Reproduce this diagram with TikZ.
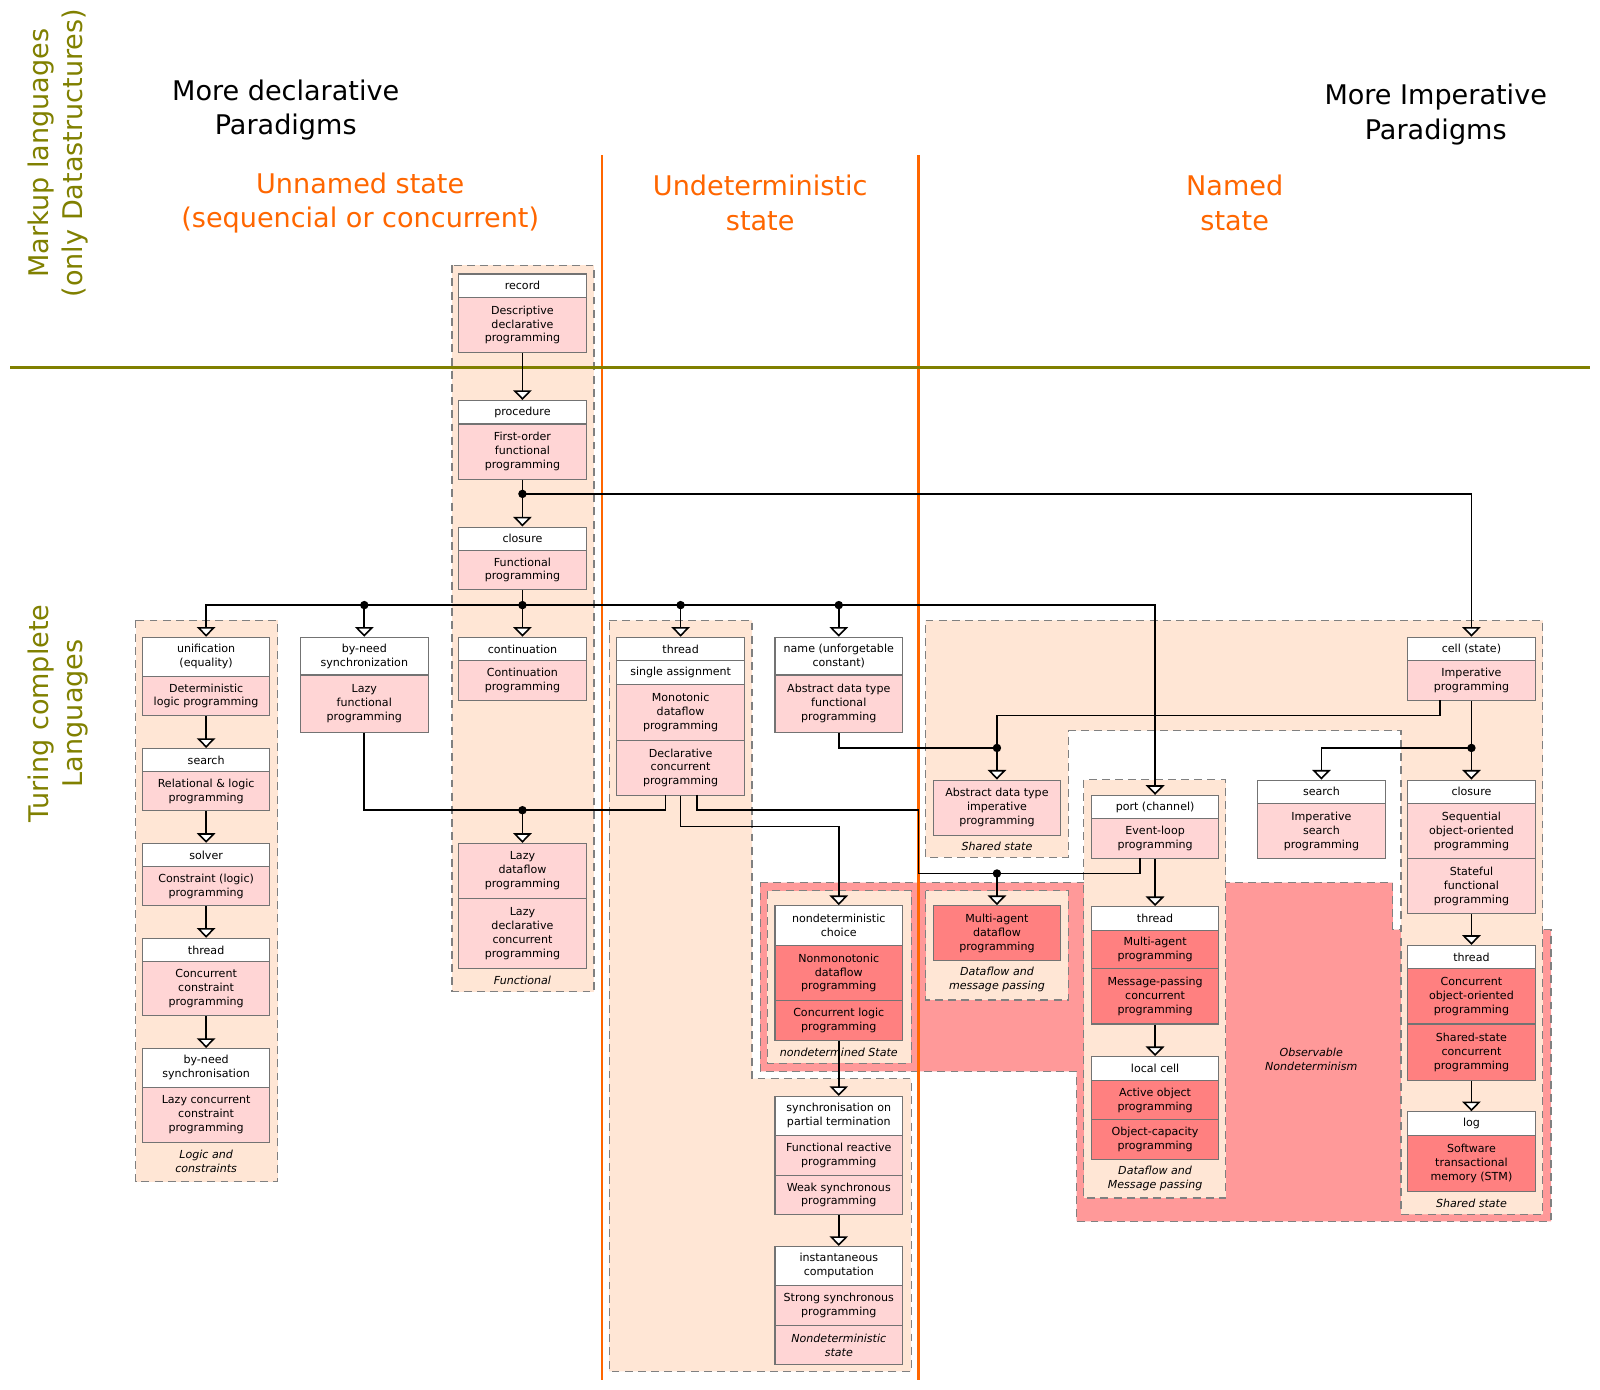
\documentclass[tikz,border=0pt]{standalone}
\usepackage{fontspec}
\setmainfont{DejaVu Sans}
\usetikzlibrary{arrows.meta}

\definecolor{peach}{HTML}{FFE6D5}
\definecolor{softRed}{HTML}{FFD5D5}
\definecolor{hotRed}{HTML}{FF8080}
\definecolor{obsRed}{HTML}{FF9999}
\definecolor{stateOrange}{HTML}{FF6600}
\definecolor{levelOlive}{HTML}{808000}

\newcommand{\pxu}{0.020408cm}
\newcommand{\cellfont}{\fontsize{6.3}{7.9}\selectfont}
\newcommand{\bigfont}{\fontsize{15.4}{19.7}\selectfont}

\begin{document}
\begin{tikzpicture}[x=\pxu, y=-\pxu,
    cellStyle/.style={draw=black!55, line width=0.6pt, anchor=north, minimum width=125*\pxu, inner sep=1pt, align=center, font=\cellfont},
    headStyle/.style={cellStyle, fill=white, minimum height=#1*\pxu},
    softStyle/.style={cellStyle, fill=softRed, minimum height=#1*\pxu},
    hotStyle/.style={cellStyle, fill=hotRed, minimum height=#1*\pxu},
    groupStyle/.style={fill=peach, draw=black!50, line width=0.7pt, dash pattern=on 4.5pt off 3pt},
    groupLabel/.style={font=\cellfont\itshape, align=center},
    titleStyle/.style={font=\bigfont, align=center},
    linkStyle/.style={line width=0.9pt},
    arrowStyle/.style={linkStyle, -{Triangle[width=10.5pt, length=5.5pt, fill=white]}}]

    \useasboundingbox (0,0) rectangle (1568,1362);

    % Groups
    \draw[groupStyle] (443,260) rectangle (582,972);
    \draw[groupStyle] (133,608) rectangle (272,1158);
    \draw[groupStyle] (597,608) -- (737,608) -- (737,1057) -- (893,1057) -- (893,1344) -- (597,1344) -- cycle;
    \draw[groupStyle, fill=obsRed] (745,865) -- (1365,865) -- (1365,911) -- (1520,911) -- (1520,1197) -- (1055,1197) -- (1055,1050) -- (745,1050) -- cycle;
    \draw[groupStyle] (752,873) rectangle (893,1042);
    \draw[groupStyle] (907,873) rectangle (1047,980);
    \draw[groupStyle] (907,608) -- (1512,608) -- (1512,1190) -- (1373,1190) -- (1373,716) -- (1047,716) -- (1047,840) -- (907,840) -- cycle;
    \draw[groupStyle] (1062,764) rectangle (1201,1174);

    % Level lines
    \draw[stateOrange, line width=1.5pt] (590,152) -- (590,1352);
    \draw[stateOrange, line width=1.5pt] (900,152) -- (900,1352);
    \draw[levelOlive, line width=1.7pt] (10,360) -- (1558,360);

    % Titles
    \node[titleStyle] (decl) at (280,108) {More declarative\\Paradigms};
    \node[titleStyle] (imper) at (1407,112) {More Imperative\\Paradigms};
    \node[titleStyle, text=stateOrange] (unnamed) at (353,199) {Unnamed state\\(sequencial or concurrent)};
    \node[titleStyle, text=stateOrange] (undet) at (745,199) {Undeterministic\\state};
    \node[titleStyle, text=stateOrange] (named) at (1210,199) {Named\\state};
    \node[titleStyle, text=levelOlive, rotate=90] (markup) at (57,150) {Markup languages\\(only Datastructures)};
    \node[titleStyle, text=levelOlive, rotate=90] (turing) at (57,699) {Turing complete\\Languages};

    % Functional column
    \node[headStyle=23] (rec) at (512,268) {record};
    \node[softStyle=54] (recP) at (512,291) {Descriptive\\declarative\\programming};
    \node[headStyle=23] (proc) at (512,392) {procedure};
    \node[softStyle=54] (procP) at (512,415) {First-order\\functional\\programming};
    \node[headStyle=23] (clos) at (512,516) {closure};
    \node[softStyle=38] (closP) at (512,539) {Functional\\programming};
    \node[headStyle=23] (cont) at (512,624) {continuation};
    \node[softStyle=39] (contP) at (512,647) {Continuation\\programming};
    \node[softStyle=54] (lzdf) at (512,826) {Lazy\\dataflow\\programming};
    \node[softStyle=69] (lzdc) at (512,880) {Lazy\\declarative\\concurrent\\programming};

    % Logic column
    \node[headStyle=38] (unif) at (202,624) {unification\\(equality)};
    \node[softStyle=39] (unifP) at (202,662) {Deterministic\\logic programming};
    \node[headStyle=23] (srchl) at (202,733) {search};
    \node[softStyle=38] (srchlP) at (202,756) {Relational \& logic\\programming};
    \node[headStyle=23] (solv) at (202,826) {solver};
    \node[softStyle=38] (solvP) at (202,849) {Constraint (logic)\\programming};
    \node[headStyle=23] (thrl) at (202,919) {thread};
    \node[softStyle=53] (thrlP) at (202,942) {Concurrent\\constraint\\programming};
    \node[headStyle=38] (bns) at (202,1027) {by-need\\synchronisation};
    \node[softStyle=54] (bnsP) at (202,1065) {Lazy concurrent\\constraint\\programming};

    % By-need
    \node[headStyle=37] (byn) at (357,624) {by-need\\synchronization};
    \node[softStyle=56] (bynP) at (357,661) {Lazy\\functional\\programming};

    % Thread column
    \node[headStyle=23] (thr) at (667,624) {thread};
    \node[headStyle=23] (sas) at (667,647) {single assignment};
    \node[softStyle=55] (monP) at (667,670) {Monotonic\\dataflow\\programming};
    \node[softStyle=54] (dclP) at (667,725) {Declarative\\concurrent\\programming};

    % Name
    \node[headStyle=37] (name) at (822,624) {name (unforgetable\\constant)};
    \node[softStyle=56] (nameP) at (822,661) {Abstract data type\\functional\\programming};

    % Nondeterministic column
    \node[headStyle=39] (ndc) at (822,887) {nondeterministic\\choice};
    \node[hotStyle=54] (ndcP) at (822,926) {Nonmonotonic\\dataflow\\programming};
    \node[hotStyle=39] (clgP) at (822,980) {Concurrent logic\\programming};
    \node[headStyle=38] (sync) at (822,1074) {synchronisation on\\partial termination};
    \node[softStyle=39] (frpP) at (822,1112) {Functional reactive\\programming};
    \node[softStyle=39] (wsyP) at (822,1151) {Weak synchronous\\programming};
    \node[headStyle=38] (inst) at (822,1221) {instantaneous\\computation};
    \node[softStyle=39] (ssyP) at (822,1259) {Strong synchronous\\programming};
    \node[softStyle=39, font=\cellfont\itshape] (ndsP) at (822,1298) {Nondeterministic\\state};

    % Named state, left part
    \node[softStyle=54] (adti) at (977,764) {Abstract data type\\imperative\\programming};
    \node[hotStyle=54] (mad) at (977,887) {Multi-agent\\dataflow\\programming};

    % Port column
    \node[headStyle=23] (port) at (1132,779) {port (channel)};
    \node[softStyle=39] (portP) at (1132,802) {Event-loop\\programming};
    \node[headStyle=23] (thrp) at (1132,888) {thread};
    \node[hotStyle=38] (mapP) at (1132,911) {Multi-agent\\programming};
    \node[hotStyle=54] (mpcP) at (1132,949) {Message-passing\\concurrent\\programming};
    \node[headStyle=23] (lcel) at (1132,1035) {local cell};
    \node[hotStyle=39] (aopP) at (1132,1058) {Active object\\programming};
    \node[hotStyle=39] (ocpP) at (1132,1097) {Object-capacity\\programming};

    % Search
    \node[headStyle=23] (srch) at (1295,764) {search};
    \node[softStyle=54] (srchP) at (1295,787) {Imperative\\search\\programming};

    % Cell column
    \node[headStyle=23] (cell) at (1442,624) {cell (state)};
    \node[softStyle=39] (cellP) at (1442,647) {Imperative\\programming};
    \node[headStyle=23] (clos2) at (1442,764) {closure};
    \node[softStyle=54] (soopP) at (1442,787) {Sequential\\object-oriented\\programming};
    \node[softStyle=54] (sfpP) at (1442,841) {Stateful\\functional\\programming};
    \node[headStyle=23] (thr2) at (1442,926) {thread};
    \node[hotStyle=54] (coopP) at (1442,949) {Concurrent\\object-oriented\\programming};
    \node[hotStyle=55] (sscP) at (1442,1003) {Shared-state\\concurrent\\programming};
    \node[headStyle=23] (log) at (1442,1089) {log};
    \node[hotStyle=55] (stmP) at (1442,1112) {Software\\transactional\\memory (STM)};

    % Group labels
    \node[groupLabel] (lblFunc) at (512,961) {Functional};
    \node[groupLabel] (lblLogic) at (202,1138) {Logic and\\constraints};
    \node[groupLabel] (lblNdet) at (822,1031) {nondetermined State};
    \node[groupLabel] (lblDfm) at (977,960) {Dataflow and\\message passing};
    \node[groupLabel] (lblShA) at (977,829) {Shared state};
    \node[groupLabel] (lblDfM) at (1132,1155) {Dataflow and\\Message passing};
    \node[groupLabel] (lblShB) at (1442,1179) {Shared state};
    \node[groupLabel] (lblObs) at (1285,1038) {Observable\\Nondeterminism};

    % Junctions
    \coordinate (jA) at (512,484);
    \coordinate (jB) at (512,593);
    \coordinate (jC) at (357,593);
    \coordinate (jD) at (667,593);
    \coordinate (jE) at (822,593);
    \coordinate (jF) at (512,794);
    \coordinate (jG) at (977,733);
    \coordinate (jH) at (1442,733);
    \coordinate (jI) at (977,856);
    \coordinate (thrL) at (652,779);
    \coordinate (thrR) at (683,779);
    \coordinate (turnA) at (822,810);
    \coordinate (turnB) at (900,794);
    \coordinate (turnC) at (977,701);
    \coordinate (portL) at (1117,841);
    \coordinate (cellL) at (1411,686);

    % Edges
    \draw[arrowStyle] (recP) -- (proc);
    \draw[linkStyle] (procP) -- (jA);
    \draw[arrowStyle] (jA) -- (clos);
    \draw[linkStyle] (closP) -- (jB);
    \draw[arrowStyle] (jB) -- (cont);
    \draw[arrowStyle] (jB) -| (unif);
    \draw[arrowStyle] (jB) -| (port);
    \draw[arrowStyle] (jC) -- (byn);
    \draw[arrowStyle] (jD) -- (thr);
    \draw[arrowStyle] (jE) -- (name);
    \draw[arrowStyle] (jA) -| (cell);

    \draw[linkStyle] (bynP) |- (jF);
    \draw[linkStyle] (thrL) |- (jF);
    \draw[arrowStyle] (jF) -- (lzdf);
    \draw[arrowStyle] (dclP) |- (turnA) -- (ndc);
    \draw[linkStyle] (thrR) |- (turnB) |- (jI);
    \draw[linkStyle] (jI) -| (portL);
    \draw[arrowStyle] (jI) -- (mad);

    \draw[linkStyle] (nameP) |- (jG);
    \draw[linkStyle] (cellL) |- (turnC) -- (jG);
    \draw[arrowStyle] (jG) -- (adti);
    \draw[linkStyle] (cellP) -- (jH);
    \draw[arrowStyle] (jH) -- (clos2);
    \draw[arrowStyle] (jH) -| (srch);

    \draw[arrowStyle] (unifP) -- (srchl);
    \draw[arrowStyle] (srchlP) -- (solv);
    \draw[arrowStyle] (solvP) -- (thrl);
    \draw[arrowStyle] (thrlP) -- (bns);
    \draw[arrowStyle] (clgP) -- (sync);
    \draw[arrowStyle] (wsyP) -- (inst);
    \draw[arrowStyle] (portP) -- (thrp);
    \draw[arrowStyle] (mpcP) -- (lcel);
    \draw[arrowStyle] (sfpP) -- (thr2);
    \draw[arrowStyle] (sscP) -- (log);

    % Dots
    \foreach \j in {jA,jB,jC,jD,jE,jF,jG,jH,jI}
        \fill (\j) circle (2.4pt);
\end{tikzpicture}
\end{document}
